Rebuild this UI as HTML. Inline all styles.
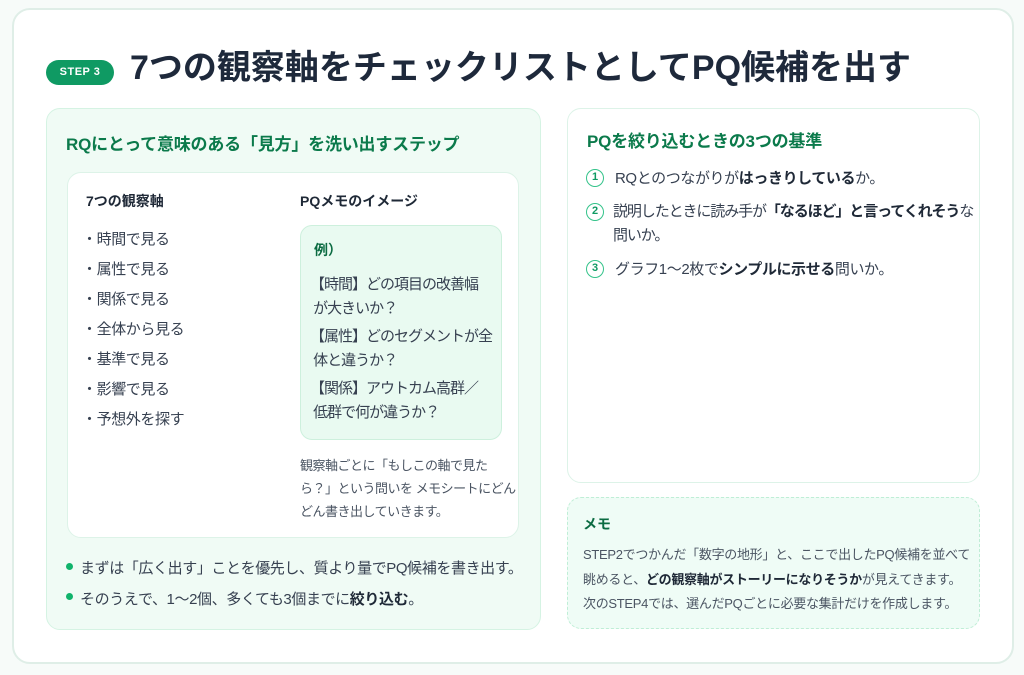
<!DOCTYPE html>
<html><head><meta charset="utf-8"><style>
*{margin:0;padding:0;box-sizing:border-box}
body{width:1024px;height:675px;background:#f7fbf9;font-family:"Liberation Sans","Noto Sans CJK JP",sans-serif;color:#374151;position:relative;overflow:hidden}
.a{position:absolute;white-space:nowrap}
.outer{position:absolute;left:12px;top:8px;width:1002px;height:656px;border:2px solid #dfeee7;border-radius:18px;background:#fff}
.pill{left:46px;top:60px;width:68px;height:25px;border-radius:13px;background:#0f9a63;color:#fff;font-size:11px;font-weight:bold;text-align:center;line-height:25px;letter-spacing:.5px}
.title{left:130px;top:40px;font-size:34px;font-weight:bold;color:#1e293b;letter-spacing:0}
.lp{position:absolute;left:46px;top:108px;width:495px;height:522px;background:#f0fbf5;border:1.5px solid #d5f3e3;border-radius:14px}
.h{font-size:17px;font-weight:bold;color:#0b7a4b;letter-spacing:-0.2px}
.wc{position:absolute;left:67px;top:172px;width:452px;height:366px;background:#fff;border:1.5px solid #ddf3e8;border-radius:14px}
.sub{font-size:14px;font-weight:bold;color:#1f2937}
.it{font-size:15px;color:#374151;letter-spacing:-0.4px}
.ex{position:absolute;left:300px;top:225px;width:202px;height:215px;background:#e9faf1;border:1.5px solid #cdf0dd;border-radius:12px}
.cap{font-size:13px;color:#4b5563;line-height:23px;letter-spacing:-0.5px}
.dot{position:absolute;width:7px;height:7px;border-radius:50%;background:#10b36b}
.rp{position:absolute;left:567px;top:108px;width:413px;height:375px;background:#fff;border:1.5px solid #ddf3e8;border-radius:14px}
.num{position:absolute;width:18px;height:18px;border:1.5px solid #34c38a;border-radius:50%;color:#0f9a63;font-size:11px;font-weight:bold;text-align:center;line-height:15px}
.memo{position:absolute;left:567px;top:497px;width:413px;height:132px;background:#effcf6;border:1.5px dashed #bfeed6;border-radius:14px}
.mt{font-size:13px;color:#4b5563;letter-spacing:-0.3px}
b{color:#1f2937}
</style></head><body>
<div class="outer"></div>
<div class="a pill">STEP 3</div>
<div class="a title">7つの観察軸をチェックリストとしてPQ候補を出す</div>

<div class="lp"></div>
<div class="a h" style="left:66px;top:130px">RQにとって意味のある「見方」を洗い出すステップ</div>
<div class="wc"></div>
<div class="a sub" style="left:86px;top:191px">7つの観察軸</div>
<div class="a sub" style="left:300px;top:191px">PQメモのイメージ</div>
<div class="a it" style="left:82px;top:225px;line-height:30px">・時間で見る<br>・属性で見る<br>・関係で見る<br>・全体から見る<br>・基準で見る<br>・影響で見る<br>・予想外を探す</div>
<div class="ex"></div>
<div class="a" style="left:314px;top:240px;font-size:14px;font-weight:bold;color:#0b6b42">例）</div>
<div class="a it" style="left:310px;top:273px;line-height:24px;letter-spacing:-1px">【時間】どの項目の改善幅<br>&nbsp;が大きいか？</div>
<div class="a it" style="left:310px;top:325px;line-height:24px;letter-spacing:-1px">【属性】どのセグメントが全<br>&nbsp;体と違うか？</div>
<div class="a it" style="left:310px;top:377px;line-height:24px;letter-spacing:-1px">【関係】アウトカム高群／<br>&nbsp;低群で何が違うか？</div>
<div class="a cap" style="left:300px;top:454px">観察軸ごとに「もしこの軸で見た<br>ら？」という問いを メモシートにどん<br>どん書き出していきます。</div>
<div class="dot" style="left:66px;top:563px"></div>
<div class="a it" style="left:80px;top:557px">まずは「広く出す」ことを優先し、質より量でPQ候補を書き出す。</div>
<div class="dot" style="left:66px;top:593px"></div>
<div class="a it" style="left:80px;top:588px">そのうえで、1〜2個、多くても3個までに<b>絞り込む</b>。</div>

<div class="rp"></div>
<div class="a h" style="left:587px;top:127px">PQを絞り込むときの3つの基準</div>
<div class="num" style="left:586px;top:169px">1</div>
<div class="a it" style="left:615px;top:167px">RQとのつながりが<b>はっきりしている</b>か。</div>
<div class="num" style="left:586px;top:203px">2</div>
<div class="a it" style="left:613px;top:200px;line-height:24px;letter-spacing:-1.1px">説明したときに読み手が<b>「なるほど」と言ってくれそう</b>な<br>問いか。</div>
<div class="num" style="left:586px;top:260px">3</div>
<div class="a it" style="left:615px;top:258px">グラフ1〜2枚で<b>シンプルに示せる</b>問いか。</div>

<div class="memo"></div>
<div class="a" style="left:583px;top:514px;font-size:14px;font-weight:bold;color:#0b6b42">メモ</div>
<div class="a mt" style="left:583px;top:543px;line-height:24.5px">STEP2でつかんだ「数字の地形」と、ここで出したPQ候補を並べて<br>眺めると、<b>どの観察軸がストーリーになりそうか</b>が見えてきます。<br>次のSTEP4では、選んだPQごとに必要な集計だけを作成します。</div>
</body></html>
